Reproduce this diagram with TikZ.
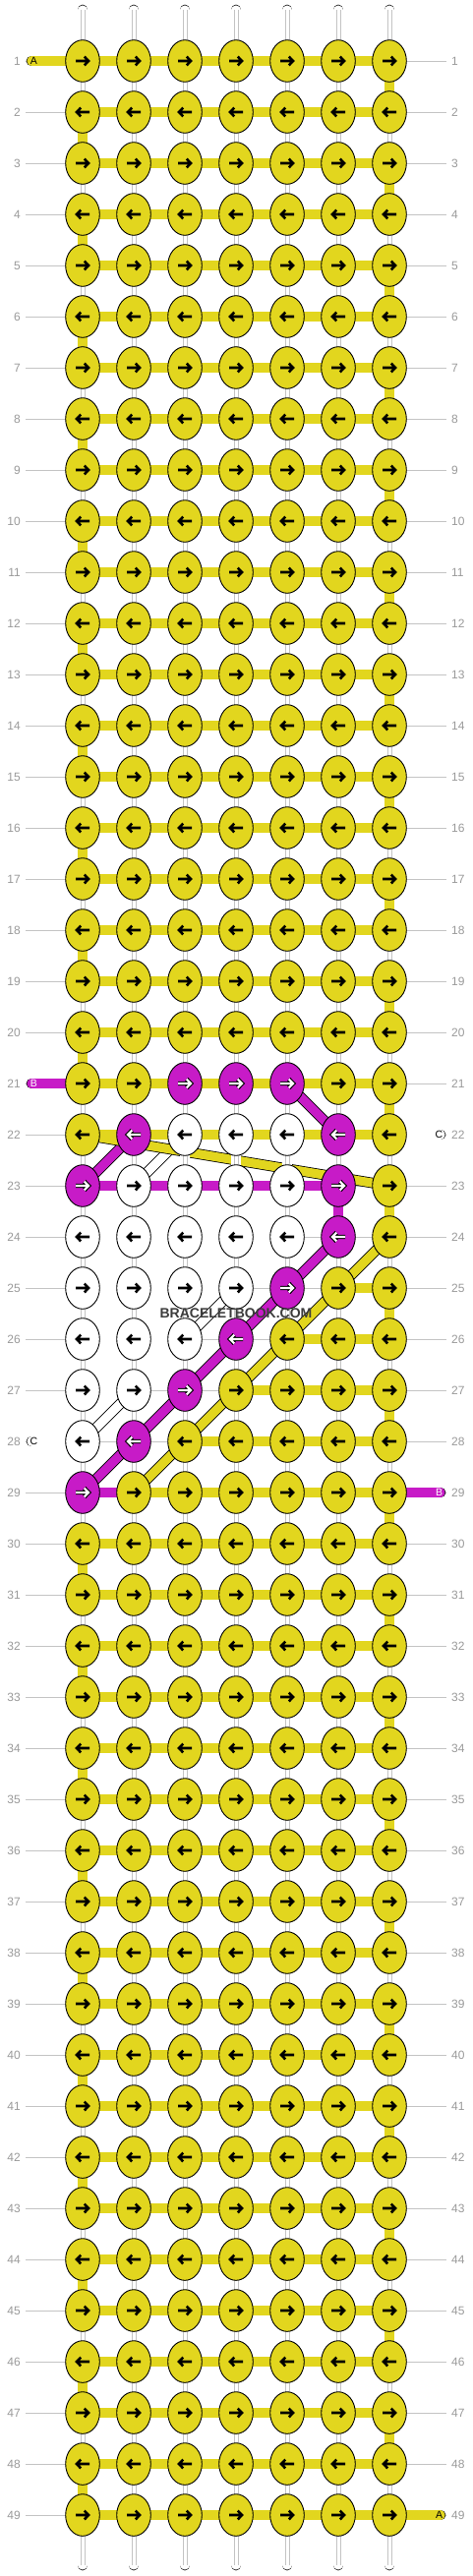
\documentclass[tikz,border=0pt]{standalone}
\usepackage{fontspec}
\setmainfont{Liberation Sans}
\usetikzlibrary{shapes.geometric}
\definecolor{cY}{HTML}{E2D61E}
\definecolor{cM}{HTML}{C71BC7}
\definecolor{cW}{HTML}{FFFFFF}
\definecolor{labgray}{HTML}{9A9A9A}
\definecolor{guidegray}{HTML}{C4C4C4}
\definecolor{innergray}{HTML}{C4C4C4}
\definecolor{wmark}{HTML}{3C3C3C}
\pgfdeclarelayer{guide}
\pgfdeclarelayer{diag}
\pgfdeclarelayer{bar}
\pgfdeclarelayer{front}
\pgfsetlayers{guide,diag,bar,main,front}
\def\MM{M}\def\WW{W}\def\NN{N}
\tikzset{
  knot/.style={ellipse, draw=black, line width=0.9pt, minimum width=34.6pt, minimum height=42.6pt, inner sep=0pt, outer sep=0pt},
  band/.style={draw=black, line width=0.8pt, double distance=9.1pt, double=#1},
  tailband/.style={band=#1, line cap=round},
  innerline/.style={draw=innergray, line width=0.6pt},
  guideline/.style={draw=guidegray, line width=0.8pt},
  rowlab/.style={text=labgray, font=\fontsize{12}{12}\selectfont, inner sep=0pt},
  taillab/.style={font=\fontsize{10.5}{10.5}\selectfont, inner sep=0pt},
  arrk/.style={draw=black, line width=2.6pt, line join=miter},
  arro/.style={draw=black, line width=4.4pt, line join=miter},
  arrw/.style={draw=white, line width=2.2pt, line join=miter},
  wm/.style={text=wmark, font=\bfseries\fontsize{14}{14}\selectfont, inner sep=0pt}
}
\begin{document}
\begin{tikzpicture}[x=1pt,y=-1pt]
\useasboundingbox (0,0) rectangle (480,2620);
% ---- colour tables ----
\foreach \r/\c/\k in {21/3/M,21/4/M,21/5/M,
  22/2/M,22/3/W,22/4/W,22/5/W,22/6/M,
  23/1/M,23/2/W,23/3/W,23/4/W,23/5/W,23/6/M,
  24/1/W,24/2/W,24/3/W,24/4/W,24/5/W,24/6/M,
  25/1/W,25/2/W,25/3/W,25/4/W,25/5/M,
  26/1/W,26/2/W,26/3/W,26/4/M,
  27/1/W,27/2/W,27/3/M,
  28/1/W,28/2/M,
  29/1/M}{\expandafter\xdef\csname nc-\r-\c\endcsname{\k}}
\foreach \r/\c/\k in {22/1/W,24/1/W,26/1/W,28/1/W,23/6/M}{\expandafter\xdef\csname vc-\r-\c\endcsname{\k}}
\foreach \r/\c/\k in {23/1/M,23/2/M,23/3/M,23/4/M,23/5/M,23/6/N,
  24/1/W,24/2/W,24/3/W,24/4/W,24/5/N,24/6/N,
  25/1/W,25/2/W,25/3/W,25/4/N,25/5/N,
  26/1/W,26/2/W,26/3/N,26/4/N,
  27/1/W,27/2/N,27/3/N,
  28/1/N,28/2/N,
  29/1/M}{\expandafter\xdef\csname hb-\r-\c\endcsname{\k}}
% ---- knots ----
\foreach \r in {1,...,49}{
  \foreach \c in {1,...,7}{
    \pgfmathsetmacro\X{84+52*(\c-1)}
    \pgfmathsetmacro\Y{62+52*(\r-1)}
    \ifcsname nc-\r-\c\endcsname \edef\k{\csname nc-\r-\c\endcsname}\else\def\k{Y}\fi
    \node[knot, fill=c\k] (n-\r-\c) at (\X,\Y) {};
    \ifodd\r\relax \def\dr{1}\else\def\dr{-1}\fi
    \ifx\k\MM
      \draw[arro, shift={(\X,\Y)}, xscale=\dr] (-7,0) -- (6,0) (1.8,-4.4) -- (6,0) -- (1.8,4.4);
      \draw[arrw, shift={(\X,\Y)}, xscale=\dr] (-7,0) -- (6,0) (1.8,-4.4) -- (6,0) -- (1.8,4.4);
    \else
      \draw[arrk, shift={(\X,\Y)}, xscale=\dr] (-7,0) -- (6,0) (1.8,-4.4) -- (6,0) -- (1.8,4.4);
    \fi
  }
}
% ---- background, guide lines, row labels ----
\begin{pgfonlayer}{guide}
\fill[white] (0,0) rectangle (480,2620);
\foreach \r in {1,...,49}{
  \pgfmathsetmacro\Y{62+52*(\r-1)}
  \coordinate (gl-\r) at (26,\Y);
  \coordinate (gr-\r) at (454,\Y);
  \draw[guideline] (gl-\r) -- (gr-\r);
  \node[rowlab, anchor=east] (ll-\r) at (21,\Y) {\r};
  \node[rowlab, anchor=west] (lr-\r) at (459,\Y) {\r};
}
\end{pgfonlayer}
% ---- diagonal strands ----
\begin{pgfonlayer}{diag}
\foreach \ra/\ca/\rb/\cb/\k in {22/3/23/2/W, 25/4/26/3/W, 27/2/28/1/W,
  21/5/22/6/M, 22/2/23/1/M, 24/6/25/5/M, 25/5/26/4/M, 26/4/27/3/M, 27/3/28/2/M, 28/2/29/1/M,
  22/1/23/7/Y, 24/7/25/6/Y, 25/6/26/5/Y, 26/5/27/4/Y, 27/4/28/3/Y, 28/3/29/2/Y}{
  \draw[band=c\k] (n-\ra-\ca.center) -- (n-\rb-\cb.center);
}
\end{pgfonlayer}
% ---- vertical and horizontal strands, tails ----
\begin{pgfonlayer}{bar}
\foreach \c in {1,...,7}{
  \pgfmathsetmacro\X{84+52*(\c-1)}
  \coordinate (t-\c) at (\X,10);
  \coordinate (b-\c) at (\X,2609);
  \draw[tailband=cW] (t-\c) -- (n-1-\c.center);
  \draw[tailband=cW] (b-\c) -- (n-49-\c.center);
  \draw[innerline] ([xshift=-2.2pt]t-\c) -- ([xshift=-2.2pt]n-1-\c.center);
  \draw[innerline] ([xshift=2.2pt]t-\c) -- ([xshift=2.2pt]n-1-\c.center);
  \draw[innerline] ([xshift=-2.2pt]b-\c) -- ([xshift=-2.2pt]n-49-\c.center);
  \draw[innerline] ([xshift=2.2pt]b-\c) -- ([xshift=2.2pt]n-49-\c.center);
}
\foreach \r in {1,...,48}{
  \pgfmathtruncatemacro\rn{\r+1}
  \foreach \c in {1,...,7}{
    \def\k{W}
    \ifodd\r\relax
      \ifnum\c=7\relax \def\k{Y}\fi
    \else
      \ifnum\c=1\relax \def\k{Y}\fi
    \fi
    \ifcsname vc-\r-\c\endcsname \edef\k{\csname vc-\r-\c\endcsname}\fi
    \draw[band=c\k] (n-\r-\c.center) -- (n-\rn-\c.center);
    \ifx\k\WW
      \draw[innerline] ([xshift=-2.2pt]n-\r-\c.center) -- ([xshift=-2.2pt]n-\rn-\c.center);
      \draw[innerline] ([xshift=2.2pt]n-\r-\c.center) -- ([xshift=2.2pt]n-\rn-\c.center);
    \fi
  }
}
\foreach \r in {1,...,49}{
  \foreach \g in {1,...,6}{
    \pgfmathtruncatemacro\gn{\g+1}
    \ifcsname hb-\r-\g\endcsname \edef\k{\csname hb-\r-\g\endcsname}\else\def\k{Y}\fi
    \ifx\k\NN\else
      \draw[band=c\k] (n-\r-\g.center) -- (n-\r-\gn.center);
    \fi
  }
}
\foreach \r/\k/\t/\tc in {1/Y/A/black, 21/M/B/white, 28/W/C/black}{
  \pgfmathsetmacro\Y{62+52*(\r-1)}
  \coordinate (tl-\r) at (32,\Y);
  \draw[tailband=c\k] (tl-\r) -- (n-\r-1.center);
  \node[taillab, text=\tc] (tll-\r) at (34.5,\Y) {\t};
}
\foreach \r/\k/\t/\tc in {22/W/C/black, 29/M/B/white, 49/Y/A/black}{
  \pgfmathsetmacro\Y{62+52*(\r-1)}
  \coordinate (tr-\r) at (448,\Y);
  \draw[tailband=c\k] (tr-\r) -- (n-\r-7.center);
  \node[taillab, text=\tc] (trl-\r) at (446.5,\Y) {\t};
}
\end{pgfonlayer}
\begin{pgfonlayer}{front}
\node[wm] (watermark) at (240,1336) {BRACELETBOOK.COM};
\end{pgfonlayer}
\end{tikzpicture}
\end{document}
